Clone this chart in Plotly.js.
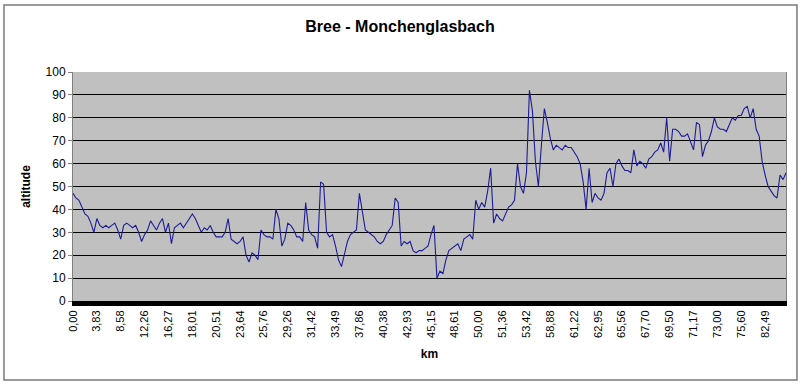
<!DOCTYPE html>
<html>
<head>
<meta charset="utf-8">
<script src="https://cdn.plot.ly/plotly-3.0.1.min.js"></script>
<style>html,body{margin:0;padding:0;background:#fff;}#chart{width:800px;height:385px;}</style>
</head>
<body>
<div id="chart"></div>
<script>
// Altitude samples along the route (m)
const altitude = [
47,45,44,41,38,37,34,30,36,33,
32,33,32,33,34,31,27,33,34,
33,32,33,30,26,29,31,35,33,31,
34,36,30,34,25,32,33,34,32,34,
36,38,36,33,30,32,31,33,30,28,
28,28,30,36,27,26,25,26,28,
20,17,21,20,18,31,29,28,28,27,
40,36,24,27,34,33,31,28,28,26,
43,31,29,28,23,52,51,30,28,
29,24,18,15,20,26,29,30,31,47,
38,31,30,29,28,26,25,26,29,31,
33,45,43,24,26,25,26,22,21,
22,22,23,24,29,33,10,13,12,18,
22,23,24,25,22,27,28,29,27,44,
40,43,41,48,58,34,38,36,35,38,
41,42,44,60,50,47,56,92,83,
61,50,68,84,78,71,66,68,67,66,
68,67,67,65,63,60,52,40,58,43,
47,45,44,47,56,58,50,60,62,
59,57,57,56,66,59,61,60,58,62,
63,65,66,69,65,80,61,75,75,74,
72,72,73,69,66,78,77,63,68,70,
74,80,76,75,75,74,77,80,79,
81,81,84,85,80,84,75,72,61,55,
50,48,46,45,55,53,56
];
// Category labels shown on the x axis (km)
const kmLabels = ["0,00","3,83","8,58","12,26","16,27","18,01","20,51","23,64","25,76","29,26",
"31,42","33,49","37,86","40,38","42,93","45,15","48,61","50,00","51,36","53,42",
"58,88","61,22","62,95","65,56","67,70","69,50","71,17","73,00","75,60","82,49"];
const labelStep = 8;

const idx = altitude.map((_, i) => i);
const tickPos = kmLabels.map((_, j) => j * labelStep);

const font = "Liberation Sans, Arial, sans-serif";

Plotly.newPlot('chart', [{
  x: idx, y: altitude, type: 'scatter', mode: 'lines',
  line: {color: '#1c1c96', width: 1.1},
  hoverinfo: 'skip'
}], {
  width: 800, height: 385,
  paper_bgcolor: '#ffffff', plot_bgcolor: '#c0c0c0',
  margin: {l: 73, r: 14, t: 72, b: 84},
  showlegend: false,
  title: {text: 'Bree - Monchenglasbach', x: 0.5, xanchor: 'center', y: 0.945,
          font: {family: font, size: 16, color: '#000', weight: 'bold'}},
  xaxis: {
    range: [0, altitude.length - 1],
    tickmode: 'array', tickvals: tickPos, ticktext: kmLabels,
    tickangle: -90, ticks: '', tickfont: {family: font, size: 11, color: '#000'},
    showgrid: false, zeroline: false,
    showline: true, linecolor: '#000', linewidth: 5,
    title: {text: 'km', font: {family: font, size: 12, color: '#000', weight: 'bold'}, standoff: 14}
  },
  yaxis: {
    range: [0, 100], dtick: 10, tick0: 0,
    ticks: 'outside', ticklen: 4, tickcolor: '#808080',
    tickfont: {family: font, size: 12, color: '#000'},
    showgrid: true, gridcolor: '#000', gridwidth: 1,
    zeroline: false,
    showline: true, linecolor: '#808080', linewidth: 1, mirror: true,
    title: {text: 'altitude', font: {family: font, size: 12, color: '#000', weight: 'bold'}, standoff: 12}
  },
  shapes: [
    {type: 'rect', xref: 'paper', yref: 'paper', x0: -0.0968, x1: 1.0154, y0: -0.345, y1: 1.2926,
     line: {color: '#7a7a7a', width: 1.5}, fillcolor: 'rgba(0,0,0,0)', layer: 'below'}
  ]
}, {staticPlot: true});
</script>
</body>
</html>
